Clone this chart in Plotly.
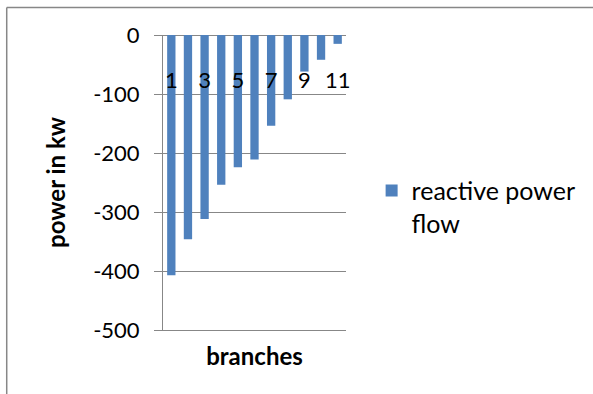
import plotly.graph_objects as go

# Reactive power flow per branch (kW)
branches = [1, 2, 3, 4, 5, 6, 7, 8, 9, 10, 11]
reactive_power = [-407, -346, -312, -254, -224, -211, -154, -109, -62, -42, -15]
branch_labels = [1, 3, 5, 7, 9, 11]
y_ticks = [0, -100, -200, -300, -400, -500]

FONT = "Lato"
GRID = "#878787"
BLUE = "#4F81BD"

fig = go.Figure()
fig.add_trace(go.Bar(
    x=branches, y=reactive_power,
    name="reactive power<br>flow",
    marker=dict(color=BLUE, line=dict(width=0)),
    xaxis="x", yaxis="y",
))
# invisible helper trace so the branch-number axis gets drawn
fig.add_trace(go.Scatter(
    x=branches, y=reactive_power, mode="none",
    showlegend=False, hoverinfo="skip", xaxis="x2", yaxis="y",
))

fig.update_layout(
    width=593, height=394,
    margin=dict(l=163, r=245, t=35, b=64),
    paper_bgcolor="white", plot_bgcolor="white",
    font=dict(family=FONT, color="black"),
    bargap=0.5,
    showlegend=True,
    legend=dict(
        x=1.14, xanchor="left", y=0.55, yanchor="top",
        font=dict(family=FONT, size=25, color="black"),
        valign="top", bgcolor="rgba(0,0,0,0)",
    ),
    xaxis=dict(
        range=[0.5, 11.5], showgrid=False, zeroline=False,
        showline=True, linecolor=GRID, linewidth=1,
        showticklabels=False, ticks="",
        title=dict(text="<b>branches</b>", font=dict(family=FONT, size=24), standoff=18),
    ),
    xaxis2=dict(
        overlaying="x", matches="x", anchor="free", position=0.9, side="bottom",
        range=[0.5, 11.5], showgrid=False, zeroline=False, showline=False,
        tickmode="array", tickvals=branch_labels, ticktext=[str(v) for v in branch_labels],
        ticks="", tickfont=dict(family=FONT, size=22, color="black"),
    ),
    yaxis=dict(
        range=[-500, 0], tickmode="array", tickvals=y_ticks,
        ticktext=[str(v) for v in y_ticks],
        showgrid=True, gridcolor=GRID, gridwidth=1,
        zeroline=True, zerolinecolor=GRID, zerolinewidth=1,
        showline=True, linecolor=GRID, linewidth=1,
        ticks="outside", ticklen=8, tickcolor=GRID, tickwidth=1,
        ticklabelstandoff=10,
        tickfont=dict(family=FONT, size=22, color="black"),
        title=dict(text="<b>power in kw</b>", font=dict(family=FONT, size=24), standoff=20),
    ),
    shapes=[
        dict(type="line", xref="paper", yref="paper",
             x0=-0.854, x1=2.5, y0=1.093, y1=1.093, line=dict(color=GRID, width=1.5)),
        dict(type="line", xref="paper", yref="paper",
             x0=-0.854, x1=-0.854, y0=1.093, y1=-0.5, line=dict(color=GRID, width=1.5)),
    ],
)

fig.write_html("out.html")
